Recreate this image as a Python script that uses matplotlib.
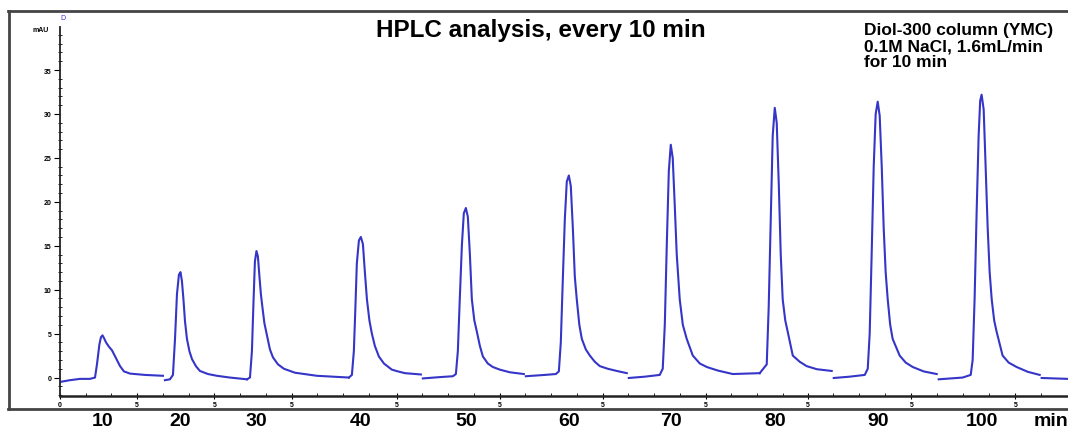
import matplotlib.pyplot as plt
import matplotlib.transforms as mtransforms
from matplotlib.lines import Line2D

# one chromatogram per injection, time in min, absorbance in mAU
inj1_t = [0, 0.97, 1.94, 2.91, 3.40, 3.59, 3.83, 3.98, 4.13, 4.27, 4.47, 4.76, 5.05, 5.44, 5.83, 6.21, 6.80, 8.25, 10.0]
inj1_mau = [-0.5, -0.3, -0.15, -0.15, 0.0, 1.5, 3.8, 4.6, 4.8, 4.5, 4.0, 3.5, 3.1, 2.2, 1.3, 0.7, 0.45, 0.3, 0.2]

inj2_t = [10.19, 10.68, 10.97, 11.17, 11.36, 11.55, 11.70, 11.84, 11.99, 12.14, 12.33, 12.57, 12.82, 13.20, 13.59, 14.37, 15.24, 16.50, 18.16]
inj2_mau = [-0.3, -0.2, 0.3, 4.4, 9.5, 11.7, 12.0, 11.0, 8.9, 6.4, 4.4, 3.0, 2.1, 1.3, 0.75, 0.4, 0.2, 0.0, -0.2]

inj3_t = [18.16, 18.45, 18.64, 18.79, 18.93, 19.08, 19.22, 19.37, 19.51, 19.66, 19.85, 20.10, 20.39, 20.68, 21.17, 21.75, 22.82, 24.95, 28.06]
inj3_mau = [-0.2, 0.0, 3.0, 8.5, 13.2, 14.4, 13.8, 11.5, 9.5, 8.0, 6.2, 4.8, 3.2, 2.3, 1.5, 1.0, 0.55, 0.2, 0.0]

inj4_t = [28.06, 28.35, 28.54, 28.69, 28.83, 29.03, 29.22, 29.42, 29.61, 29.81, 30.05, 30.29, 30.58, 30.97, 31.46, 32.23, 32.82, 33.50, 35.05]
inj4_mau = [0.0, 0.3, 3.0, 8.0, 13.0, 15.6, 16.0, 15.2, 12.0, 8.9, 6.5, 5.0, 3.6, 2.4, 1.6, 0.9, 0.7, 0.5, 0.35]

inj5_t = [35.24, 36.89, 38.16, 38.45, 38.64, 38.83, 39.03, 39.22, 39.42, 39.61, 39.81, 40.00, 40.24, 40.49, 40.78, 41.07, 41.55, 42.04, 42.72, 43.69, 45.05]
inj5_mau = [-0.1, 0.05, 0.15, 0.4, 3.0, 9.0, 15.0, 18.7, 19.3, 18.3, 14.0, 8.9, 6.5, 5.2, 3.6, 2.4, 1.6, 1.2, 0.9, 0.6, 0.4]

inj6_t = [45.24, 47.09, 48.16, 48.45, 48.64, 48.83, 49.03, 49.22, 49.42, 49.61, 49.81, 50.00, 50.19, 50.44, 50.68, 51.07, 51.46, 51.94, 52.43, 53.20, 54.08, 55.05]
inj6_mau = [0.15, 0.3, 0.4, 0.7, 4.0, 11.0, 18.0, 22.3, 23.0, 21.8, 17.0, 11.5, 8.9, 6.0, 4.4, 3.2, 2.5, 1.8, 1.3, 1.0, 0.75, 0.5]

inj7_t = [55.24, 56.80, 58.25, 58.54, 58.74, 58.93, 59.13, 59.32, 59.51, 59.71, 59.90, 60.19, 60.49, 60.87, 61.46, 62.14, 62.82, 63.88, 65.34, 67.96]
inj7_mau = [-0.05, 0.1, 0.3, 1.0, 6.0, 15.0, 23.5, 26.5, 25.0, 19.5, 14.0, 8.9, 6.0, 4.4, 2.5, 1.6, 1.2, 0.8, 0.4, 0.5]

inj8_t = [67.96, 68.64, 68.83, 69.03, 69.22, 69.42, 69.61, 69.81, 70.00, 70.19, 70.44, 70.68, 71.17, 71.84, 72.52, 73.50, 74.95]
inj8_mau = [0.5, 1.5, 8.0, 18.0, 27.5, 30.7, 29.0, 22.0, 14.0, 8.9, 6.5, 5.2, 2.5, 1.8, 1.3, 0.95, 0.75]

inj9_t = [75.15, 76.70, 78.16, 78.45, 78.64, 78.83, 79.03, 79.22, 79.42, 79.61, 79.81, 80.00, 80.19, 80.39, 80.63, 80.87, 81.55, 82.14, 82.82, 83.88, 85.15]
inj9_mau = [-0.05, 0.1, 0.3, 1.0, 5.0, 14.0, 24.0, 30.0, 31.4, 29.8, 24.0, 17.0, 12.0, 8.9, 6.0, 4.4, 2.5, 1.7, 1.2, 0.7, 0.4]

inj10_t = [85.34, 87.67, 88.45, 88.64, 88.83, 89.03, 89.22, 89.37, 89.51, 89.71, 89.90, 90.10, 90.29, 90.49, 90.73, 90.97, 91.55, 92.14, 92.91, 94.00, 95.15]
inj10_mau = [-0.2, 0.0, 0.3, 2.0, 9.0, 19.0, 27.5, 31.5, 32.2, 30.5, 24.0, 17.0, 12.0, 8.9, 6.5, 5.2, 2.5, 1.7, 1.2, 0.65, 0.3]

tail_t = [95.34, 97.86]
tail_mau = [-0.05, -0.15]

sample_labels = ["10", "20", "30", "40", "50", "60", "70", "80", "90", "100"]
inner_ticks = [0, 7.5, 15, 22.5, 32.7, 42.7, 52.7, 62.7, 72.6, 82.7, 92.8]
inner_labels = ["0", "5", "5", "5", "5", "5", "5", "5", "5", "5", "5"]

traces = [
    (inj1_t, inj1_mau), (inj2_t, inj2_mau), (inj3_t, inj3_mau),
    (inj4_t, inj4_mau), (inj5_t, inj5_mau), (inj6_t, inj6_mau),
    (inj7_t, inj7_mau), (inj8_t, inj8_mau), (inj9_t, inj9_mau),
    (inj10_t, inj10_mau),
]

plt.rcParams["font.family"] = ["Liberation Sans", "DejaVu Sans"]

fig = plt.figure(figsize=(10.68, 4.31), dpi=100)
ax = fig.add_axes([60 / 1068, 34 / 431, 1008 / 1068, 369 / 431])

line_color = "#3535c8"
for t, mau in traces:
    ax.plot(t, mau, color=line_color, lw=1.5, solid_joinstyle="round")
ax.plot(tail_t, tail_mau, color=line_color, lw=1.5)

ax.set_xlim(0, 97.9)
ax.set_ylim(-2.1, 39.9)

for side in ["top", "right"]:
    ax.spines[side].set_visible(False)
ax.spines["left"].set_linewidth(1.3)
ax.spines["bottom"].set_linewidth(1.8)
ax.spines["left"].set_color("#222222")
ax.spines["bottom"].set_color("#222222")

ax.set_yticks(range(0, 36, 5))
ax.set_yticks(range(-2, 40), minor=True)
ax.tick_params(axis="y", which="major", direction="out", length=4, width=0.8,
               labelsize=5, pad=2)
ax.tick_params(axis="y", which="minor", direction="inout", length=2.5, width=0.6)

minor_x = []
for a, b in zip(inner_ticks[:-1], inner_ticks[1:]):
    k = 1
    while a + 2.5 * k < b - 1:
        minor_x.append(a + 2.5 * k)
        k += 1
minor_x += [inner_ticks[-1] + 2.5]
ax.set_xticks(inner_ticks)
ax.set_xticklabels(inner_labels)
ax.set_xticks(minor_x, minor=True)
ax.tick_params(axis="x", which="major", direction="inout", length=5, width=0.8,
               labelsize=5, pad=1)
ax.tick_params(axis="x", which="minor", direction="in", length=2.5, width=0.6)
for lab in ax.get_xticklabels() + ax.get_yticklabels():
    lab.set_fontweight("bold")

# mAU unit and signal marker at top of the axis
fig.text(41 / 1068, 1 - 31 / 431, "mAU", fontsize=5, fontweight="bold",
         ha="center", va="center")
fig.text(63 / 1068, 1 - 18 / 431, "D", fontsize=5, color=line_color,
         ha="center", va="center")

fig.text(541 / 1068, 1 - 30 / 431, "HPLC analysis, every 10 min",
         ha="center", va="center", fontsize=17.5, fontweight="bold")
fig.text(864 / 1068, 1 - 23 / 431,
         "Diol-300 column (YMC)\n0.1M NaCl, 1.6mL/min\nfor 10 min",
         ha="left", va="top", fontsize=12.5, fontweight="bold",
         linespacing=1.1)

# injection time under each peak
trans = mtransforms.blended_transform_factory(ax.transData, fig.transFigure)
for (t, mau), lab in zip(traces, sample_labels):
    apex = t[mau.index(max(mau))]
    ax.text(apex, 1 - 422 / 431, lab, transform=trans, ha="center",
            va="center", fontsize=14, fontweight="bold", clip_on=False)
fig.text(1034 / 1068, 1 - 422 / 431, "min", ha="left", va="center",
         fontsize=14, fontweight="bold")

# outer frame of the scanned figure
frame = dict(color="#444444", lw=2, transform=fig.transFigure)
fig.add_artist(Line2D([8 / 1068, 1], [1 - 12 / 431, 1 - 12 / 431], **frame))
fig.add_artist(Line2D([9 / 1068, 9 / 1068], [1 - 12 / 431, 1 - 410 / 431], **frame))
fig.add_artist(Line2D([8 / 1068, 1], [1 - 410 / 431, 1 - 410 / 431], **frame))

fig.savefig("out.png", dpi=100)
